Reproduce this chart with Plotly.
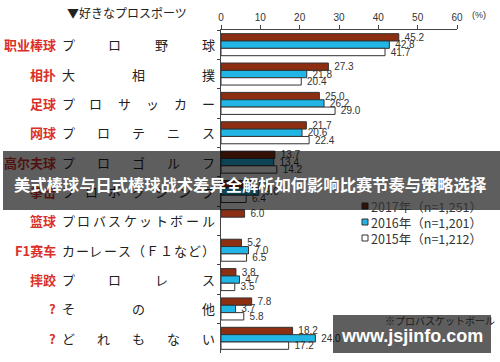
import plotly.graph_objects as go

categories = ["プロ野球", "大相撲", "プロサッカー", "プロテニス", "プロゴルフ",
              "プロボクシング", "プロバスケットボール", "カーレース（Ｆ１など）",
              "プロレス", "その他", "どれもない"]
cn_labels = ["职业棒球", "相扑", "足球", "网球", "高尔夫球", "拳击", "篮球",
             "F1赛车", "摔跤", "?", "?"]
series_names = ["2017年（n=1,251）", "2016年（n=1,201）", "2015年（n=1,212）"]
v2017 = [45.2, 27.3, 25.0, 21.7, 13.7, 7.5, 6.0, 5.2, 3.8, 7.8, 18.2]
v2016 = [42.8, 21.8, 26.2, 20.6, 13.4, 9.6, None, 7.0, 4.7, 3.7, 24.0]
v2015 = [41.7, 20.4, 29.0, 22.4, 14.2, 6.4, None, 6.5, 3.5, 5.8, 17.2]
x_ticks = [0, 10, 20, 30, 40, 50, 60]
x_tick_labels = ["0", "10", "20", "30", "40", "50", "60"]
chart_title = "▼好きなプロスポーツ"
banner_text = "美式棒球与日式棒球战术差异全解析如何影响比赛节奏与策略选择"
watermark = "www.jsjinfo.com"
footnote = "※プロバスケットボール"

W, H = 500, 362
L, R, T, B = 221, 43, 30, 9
PW, PH = W - L - R, H - T - B

def xp(px):
    return (px - L) / PW

def yp(py):
    return 1 - (py - T) / PH

fills = ["#8c2e12", "#22b6e6", "#ffffff"]
fig = go.Figure()
for name, vals, col in zip(series_names, [v2017, v2016, v2015], fills):
    fig.add_trace(go.Bar(
        y=categories, x=vals, orientation="h", name=name, showlegend=False,
        marker=dict(color=col, line=dict(color="#333333", width=1)),
        text=[("\u00a0%.1f" % v) if v is not None else "" for v in vals],
        textposition="outside", constraintext="none", cliponaxis=False,
        textfont=dict(family="Liberation Sans, Arial", size=10, color="#333333"),
    ))

annotations = []
shapes = []
dark_rows = {4, 5}  # rows under the semi-transparent banner
for i, (cat, cn) in enumerate(zip(categories, cn_labels)):
    red = "#50120f" if i in dark_rows else "#d9302a"
    blk = "#0c0c0c" if i in dark_rows else "#222222"
    annotations.append(dict(
        x=xp(58), y=cat, xref="paper", yref="y", text="<b>%s</b>" % cn,
        showarrow=False, xanchor="right", yanchor="middle",
        font=dict(family="Noto Sans CJK SC", size=13, color=red)))
    chars = list(cat)
    n = len(chars)
    for j, ch in enumerate(chars):
        cx = 68 + j * (208 - 68) / (n - 1)
        annotations.append(dict(
            x=xp(cx), y=cat, xref="paper", yref="y", text=ch,
            showarrow=False, xanchor="center", yanchor="middle",
            font=dict(family="Noto Sans CJK JP", size=13, color=blk)))

leg_y = [206, 222, 238]
for name, col, ly in zip(series_names, fills, leg_y):
    shapes.append(dict(type="rect", xref="paper", yref="paper",
                       x0=xp(362), x1=xp(368), y0=yp(ly - 3), y1=yp(ly + 3),
                       fillcolor=col, line=dict(color="#333333", width=1)))
    annotations.append(dict(
        x=xp(369), y=yp(ly), xref="paper", yref="paper", text=name,
        showarrow=False, xanchor="left", yanchor="middle",
        font=dict(family="Noto Sans CJK JP", size=12.5, color="#333333")))

annotations += [
    dict(x=xp(65), y=yp(12), xref="paper", yref="paper", text=chart_title,
         showarrow=False, xanchor="left", yanchor="middle",
         font=dict(family="Noto Sans CJK JP", size=12, color="#222222")),
    dict(x=xp(470), y=yp(15), xref="paper", yref="paper", text="(%)",
         showarrow=False, xanchor="left", yanchor="middle",
         font=dict(family="Liberation Sans, Arial", size=9, color="#333333")),
    dict(x=xp(383), y=yp(320), xref="paper", yref="paper", text=footnote,
         showarrow=False, xanchor="left", yanchor="middle",
         font=dict(family="Noto Sans CJK JP", size=10, color="#1a1a1a")),
    dict(x=xp(250), y=yp(184), xref="paper", yref="paper",
         text="<b>%s</b>" % banner_text, showarrow=False,
         xanchor="center", yanchor="middle",
         font=dict(family="Noto Sans CJK SC", size=16.3, color="#ffffff")),
    dict(x=xp(412), y=yp(336), xref="paper", yref="paper",
         text="<b>%s</b>" % watermark, showarrow=False,
         xanchor="center", yanchor="middle",
         font=dict(family="Liberation Sans, Arial", size=18, color="#ffffff")),
]

shapes += [
    dict(type="rect", xref="paper", yref="paper", x0=xp(3), x1=xp(500),
         y0=yp(151), y1=yp(210), fillcolor="rgba(0,0,0,0.63)",
         line=dict(width=0), layer="above"),
    dict(type="rect", xref="paper", yref="paper", x0=xp(333), x1=xp(491),
         y0=yp(315), y1=yp(353), fillcolor="rgba(0,0,0,0.63)",
         line=dict(width=0), layer="above"),
]

fig.update_layout(
    template="none",
    width=W, height=H, margin=dict(l=L, r=R, t=T, b=B, autoexpand=False),
    paper_bgcolor="white", plot_bgcolor="white",
    barmode="group", bargap=0.25, bargroupgap=0,
    xaxis=dict(side="top", range=[0, 60], tickmode="array", tickvals=x_ticks,
               ticktext=x_tick_labels, showticklabels=True, showgrid=False,
               zeroline=False, showline=True, linecolor="#444444", linewidth=1,
               ticks="outside", ticklen=4, tickcolor="#444444", automargin=False,
               tickfont=dict(family="Liberation Sans, Arial", size=10, color="#333333")),
    yaxis=dict(categoryorder="array", categoryarray=categories, autorange="reversed",
               showticklabels=False, showgrid=False, zeroline=False, automargin=False,
               showline=True, linecolor="#444444", linewidth=1,
               ticks="outside", tickson="boundaries", ticklen=3, tickcolor="#444444"),
    annotations=annotations, shapes=shapes, showlegend=False,
)

fig.write_html("out.html",
               config={"displayModeBar": False},
               post_script="document.body.style.margin='0';"
                           "document.body.style.padding='0';")
